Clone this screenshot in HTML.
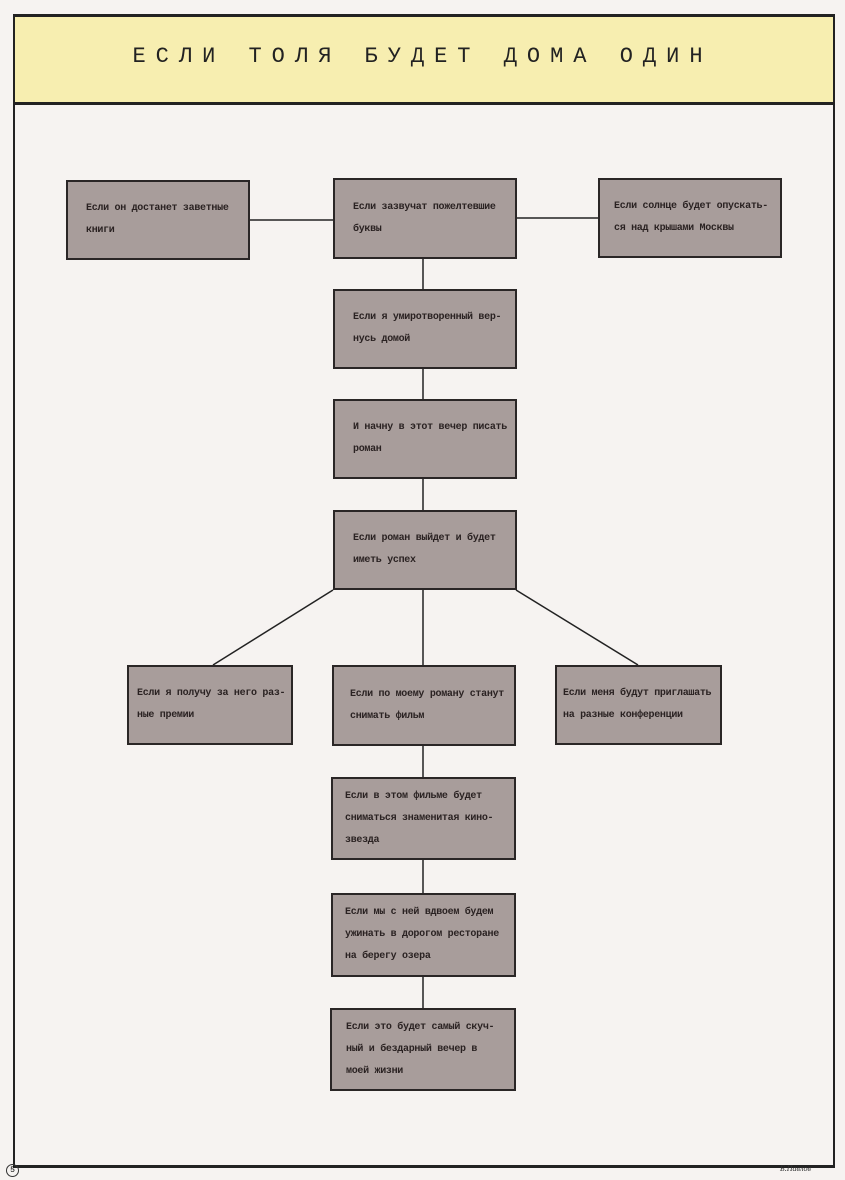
<!DOCTYPE html>
<html><head><meta charset="utf-8"><style>
body{margin:0;width:845px;height:1180px;background:#f6f3f1;position:relative;overflow:hidden;font-family:"Liberation Mono",monospace;}
.frame{position:absolute;left:13px;top:14px;width:818px;height:1148px;border:2px solid #222;border-top-width:3px;border-bottom-width:3px;}
.band{position:absolute;left:15px;top:17px;width:818px;height:85px;background:#f7eeb0;border-bottom:3px solid #222;}
.title{position:absolute;left:0;top:44px;width:845px;text-align:center;font-size:22px;letter-spacing:10px;color:#222;}
.b{position:absolute;background:#a89d9b;border:2px solid #2a2626;box-sizing:border-box;font-size:10px;font-weight:bold;line-height:22px;color:#2a2222;padding-left:18px;display:flex;align-items:center;letter-spacing:-0.3px;white-space:nowrap}
svg{position:absolute;left:0;top:0}
</style></head><body>
<div class="band"></div>
<div class="frame"></div>
<div class="title">ЕСЛИ ТОЛЯ БУДЕТ ДОМА ОДИН</div>
<svg width="845" height="1180"><g stroke="#222" stroke-width="1.5">
<line x1="250" y1="220" x2="333" y2="220"/><line x1="516" y1="218" x2="598" y2="218"/>
<line x1="423" y1="259" x2="423" y2="1008"/>
<line x1="333" y1="590" x2="213" y2="665"/><line x1="516" y1="590" x2="638" y2="665"/>
</g></svg>
<div class="b" style="left:66px;top:180px;width:184px;height:80px"><div>Если он достанет заветные<br>книги</div></div>
<div class="b" style="left:333px;top:178px;width:184px;height:81px"><div>Если зазвучат пожелтевшие<br>буквы</div></div>
<div class="b" style="left:598px;top:178px;width:184px;height:80px;padding-left:14px"><div>Если солнце будет опускать-<br>ся над крышами Москвы</div></div>
<div class="b" style="left:333px;top:289px;width:184px;height:80px"><div>Если я умиротворенный вер-<br>нусь домой</div></div>
<div class="b" style="left:333px;top:399px;width:184px;height:80px"><div>И начну в этот вечер писать<br>роман</div></div>
<div class="b" style="left:333px;top:510px;width:184px;height:80px"><div>Если роман выйдет и будет<br>иметь успех</div></div>
<div class="b" style="left:127px;top:665px;width:166px;height:80px;padding-left:8px"><div>Если я получу за него раз-<br>ные премии</div></div>
<div class="b" style="left:332px;top:665px;width:184px;height:81px;padding-left:16px"><div>Если по моему роману станут<br>снимать фильм</div></div>
<div class="b" style="left:555px;top:665px;width:167px;height:80px;padding-left:6px"><div>Если меня будут приглашать<br>на разные конференции</div></div>
<div class="b" style="left:331px;top:777px;width:185px;height:83px;padding-left:12px"><div>Если в этом фильме будет<br>сниматься знаменитая кино-<br>звезда</div></div>
<div class="b" style="left:331px;top:893px;width:185px;height:84px;padding-left:12px"><div>Если мы с ней вдвоем будем<br>ужинать в дорогом ресторане<br>на берегу озера</div></div>
<div class="b" style="left:330px;top:1008px;width:186px;height:83px;padding-left:14px"><div>Если это будет самый скуч-<br>ный и бездарный вечер в<br>моей жизни</div></div>
<div style="position:absolute;left:6px;top:1164px;width:11px;height:11px;border:1px solid #333;border-radius:50%;font-size:8px;text-align:center;line-height:11px">5</div>
<div style="position:absolute;left:780px;top:1164px;font-size:8px;font-style:italic;font-family:'Liberation Serif',serif;color:#333">Б.Павлов</div>
</body></html>
